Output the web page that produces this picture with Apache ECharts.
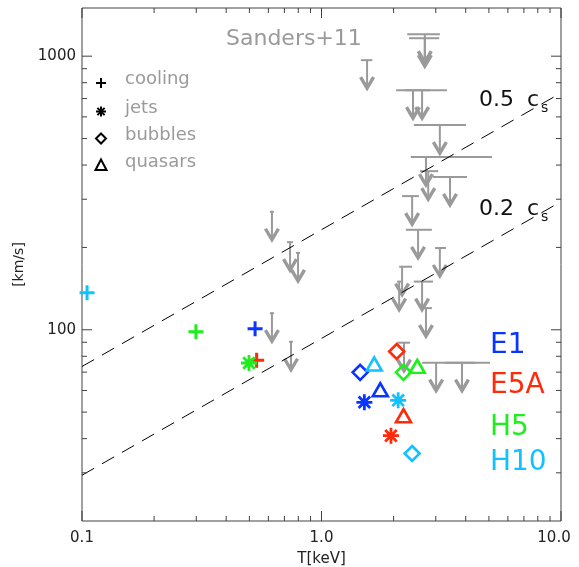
<!DOCTYPE html>
<html>
<head>
<meta charset="utf-8">
<script src="https://cdn.jsdelivr.net/npm/echarts@6/dist/echarts.min.js"></script>
<style>
  html, body { margin: 0; padding: 0; background: #ffffff; }
  #chart { width: 579px; height: 567px; }
</style>
</head>
<body>
<div id="chart"></div>
<script>
// ---- axis ranges and tick values ----
const X_MIN = 0.1, X_MAX = 10;
const Y_MIN = 20, Y_MAX = 1500;
const xMajorTicks = [0.1, 1, 10];
const xMinorTicks = [0.2, 0.3, 0.4, 0.5, 0.6, 0.7, 0.8, 0.9, 2, 3, 4, 5, 6, 7, 8, 9];
const yMajorTicks = [100, 1000];
const yMinorTicks = [30, 40, 50, 60, 70, 80, 90, 200, 300, 400, 500, 600, 700, 800, 900];
const xTickLabels = { '0.1': '0.1', '1': '1.0', '10': '10.0' };
const yTickLabels = { '100': '100', '1000': '1000' };

// ---- Sanders+11 upper limits: temperature, velocity limit, temperature range ----
const sandersT   = [1.55, 2.70, 2.70, 2.41, 2.63, 3.12, 2.73, 2.79, 3.44, 2.39, 2.53, 3.12, 2.17, 2.11, 2.63, 2.73, 2.21, 3.01, 3.86, 0.621, 0.739, 0.798, 0.621, 0.746];
const sandersV   = [967, 1203, 1163, 751, 751, 560, 428, 380, 362, 308, 232, 199, 170, 150, 150, 120, 89.7, 75.8, 75.8, 270, 209, 191, 115, 90.4];
const sandersTlo = [1.46, 2.28, 2.32, 2.05, 2.23, 2.43, 2.36, 2.58, 2.92, 2.17, 2.25, 2.98, 2.11, 2.07, 2.43, 2.65, 2.07, 2.63, 3.28, 0.609, 0.718, 0.783, 0.609, 0.732];
const sandersThi = [1.63, 3.12, 3.10, 2.84, 3.34, 4.01, 5.15, 3.07, 4.05, 2.55, 2.89, 3.31, 2.39, 2.15, 2.92, 2.89, 2.34, 4.38, 5.05, 0.633, 0.760, 0.813, 0.633, 0.760];

// ---- sound-speed reference lines (end points) ----
const cs05T = [0.1, 10];
const cs05V = [73.4, 734];
const cs02T = [0.1, 10];
const cs02V = [29.4, 294];

// ---- simulation runs: one value per run (E1, E5A, H5, H10) ----
const runNames  = ['E1', 'E5A', 'H5', 'H10'];
const coolingT  = [0.528, 0.536, 0.299, 0.105];
const coolingV  = [100.8, 77.3, 98.3, 136.5];
const jetsT     = [1.51, 1.95, 0.498, 2.09];
const jetsV     = [54.3, 41.0, 75.6, 55.2];
const bubblesT  = [1.45, 2.06, 2.20, 2.39];
const bubblesV  = [69.9, 83.3, 69.9, 35.3];
const quasarsT  = [1.76, 2.20, 2.51, 1.66];
const quasarsV  = [60.4, 48.5, 73.5, 75.0];

// ---- styling ----
const FONT = '"DejaVu Sans"';
const AXIS_COLOR = '#404040';
const GRAY = '#9a9a9a';
const runColors = ['#0a34ff', '#ff2a0a', '#1eee1e', '#12c2ff'];
const PLUS = 'path://M-1,0L1,0M0,-1L0,1';
const STAR = 'path://M-1,0L1,0M0,-1L0,1M-0.72,-0.72L0.72,0.72M-0.72,0.72L0.72,-0.72';

const chart = echarts.init(document.getElementById('chart'), null, { renderer: 'canvas' });

function logLabel(map) {
  return function (v) {
    const key = String(Math.round(v * 1000) / 1000);
    return map[key] !== undefined ? map[key] : '';
  };
}

// tick marks on all four sides, pointing inward
const tickData = []
  .concat(xMajorTicks.map(v => [v, Y_MIN, 1, 0]))
  .concat(xMinorTicks.map(v => [v, Y_MIN, 0, 0]))
  .concat(yMajorTicks.map(v => [X_MIN, v, 1, 1]))
  .concat(yMinorTicks.map(v => [X_MIN, v, 0, 1]));

function renderTick(params, api) {
  const major = api.value(2) === 1;
  const isY = api.value(3) === 1;
  const len = major ? 10 : 5;
  const st = { stroke: AXIS_COLOR, lineWidth: 1 };
  if (!isY) {
    const v = api.value(0);
    const b = api.coord([v, Y_MIN]);
    const t = api.coord([v, Y_MAX]);
    return { type: 'group', children: [
      { type: 'line', shape: { x1: b[0], y1: b[1], x2: b[0], y2: b[1] - len }, style: st },
      { type: 'line', shape: { x1: t[0], y1: t[1], x2: t[0], y2: t[1] + len }, style: st }
    ] };
  }
  const v = api.value(1);
  const l = api.coord([X_MIN, v]);
  const r = api.coord([X_MAX, v]);
  return { type: 'group', children: [
    { type: 'line', shape: { x1: l[0], y1: l[1], x2: l[0] + len, y2: l[1] }, style: st },
    { type: 'line', shape: { x1: r[0], y1: r[1], x2: r[0] - len, y2: r[1] }, style: st }
  ] };
}

// upper-limit glyph: temperature bar plus a downward arrow
const sandersData = sandersT.map((t, i) => [t, sandersV[i], sandersTlo[i], sandersThi[i]]);
function renderLimit(params, api) {
  const t = api.value(0), v = api.value(1);
  const c = api.coord([t, v]);
  const l = api.coord([api.value(2), v]);
  const r = api.coord([api.value(3), v]);
  const tip = c[1] + 28;
  return { type: 'group', children: [
    { type: 'line', shape: { x1: l[0], y1: c[1], x2: r[0], y2: c[1] }, style: { stroke: GRAY, lineWidth: 2 } },
    { type: 'line', shape: { x1: c[0], y1: c[1], x2: c[0], y2: tip - 1 }, style: { stroke: GRAY, lineWidth: 2 } },
    { type: 'polyline', shape: { points: [[c[0] - 6.5, tip - 11], [c[0], tip], [c[0] + 6.5, tip - 11]] },
      style: { stroke: GRAY, lineWidth: 3.4, fill: null, lineJoin: 'miter' } }
  ] };
}

const series = [
  { type: 'custom', name: 'ticks', data: tickData, renderItem: renderTick, silent: true, z: 5 },
  { type: 'custom', name: 'Sanders+11', data: sandersData, renderItem: renderLimit, silent: true, z: 2,
    encode: { x: [0, 2, 3], y: 1 } },
  { type: 'line', name: '0.5 cs', data: cs05T.map((t, i) => [t, cs05V[i]]), symbol: 'none', silent: true, z: 3,
    lineStyle: { color: '#000', width: 1, type: [14, 9] } },
  { type: 'line', name: '0.2 cs', data: cs02T.map((t, i) => [t, cs02V[i]]), symbol: 'none', silent: true, z: 3,
    lineStyle: { color: '#000', width: 1, type: [14, 9] } }
];

// one scatter series per run and mechanism
const mechanisms = [
  { T: coolingT, V: coolingV, symbol: PLUS, size: 15, width: 3 },
  { T: jetsT,    V: jetsV,    symbol: STAR, size: 16, width: 2.8 },
  { T: bubblesT, V: bubblesV, symbol: 'diamond', size: [15, 15], width: 2.6 },
  { T: quasarsT, V: quasarsV, symbol: 'triangle', size: [15, 13], width: 2.6 }
];
runNames.forEach((run, r) => {
  mechanisms.forEach(m => {
    series.push({
      type: 'scatter', name: run, data: [[m.T[r], m.V[r]]],
      symbol: m.symbol, symbolSize: m.size, silent: true, z: 4,
      itemStyle: { color: 'rgba(0,0,0,0)', borderColor: runColors[r], borderWidth: m.width, opacity: 1 }
    });
  });
});

// legend glyphs for the four mechanisms
const legendItems = [
  { label: 'cooling', y: 83, shape: 'plus' },
  { label: 'jets', y: 111.5, shape: 'star' },
  { label: 'bubbles', y: 138.5, shape: 'diamond' },
  { label: 'quasars', y: 165.5, shape: 'triangle' }
];
function legendGlyph(shape, cx, cy) {
  const st = { stroke: '#000', lineWidth: 2, fill: null };
  const h = 5;
  if (shape === 'plus') return [
    { type: 'line', shape: { x1: cx - h, y1: cy, x2: cx + h, y2: cy }, style: st },
    { type: 'line', shape: { x1: cx, y1: cy - h, x2: cx, y2: cy + h }, style: st }
  ];
  if (shape === 'star') return [
    { type: 'line', shape: { x1: cx - h, y1: cy, x2: cx + h, y2: cy }, style: st },
    { type: 'line', shape: { x1: cx, y1: cy - h, x2: cx, y2: cy + h }, style: st },
    { type: 'line', shape: { x1: cx - 3.6, y1: cy - 3.6, x2: cx + 3.6, y2: cy + 3.6 }, style: st },
    { type: 'line', shape: { x1: cx - 3.6, y1: cy + 3.6, x2: cx + 3.6, y2: cy - 3.6 }, style: st }
  ];
  if (shape === 'diamond') return [
    { type: 'polygon', shape: { points: [[cx, cy - h], [cx + h, cy], [cx, cy + h], [cx - h, cy]] }, style: st }
  ];
  return [
    { type: 'polygon', shape: { points: [[cx, cy - 6], [cx + 5.5, cy + 4.5], [cx - 5.5, cy + 4.5]] }, style: st }
  ];
}
const graphics = [];
legendItems.forEach(it => {
  legendGlyph(it.shape, 101, it.y).forEach(g => graphics.push(g));
  graphics.push({ type: 'text', x: 125, y: it.y - 3.5,
    style: { text: it.label, fontFamily: FONT, fontSize: 18, fill: GRAY, verticalAlign: 'middle' } });
});
graphics.push({ type: 'text', x: 226, y: 39,
  style: { text: 'Sanders+11', fontFamily: FONT, fontSize: 22, fill: GRAY, verticalAlign: 'middle' } });

// sound-speed line labels
[{ num: '0.5', y: 100 }, { num: '0.2', y: 209 }].forEach(l => {
  graphics.push({ type: 'text', x: 479, y: l.y,
    style: { text: l.num, fontFamily: FONT, fontSize: 22, fill: '#111', verticalAlign: 'middle' } });
  graphics.push({ type: 'text', x: 527, y: l.y,
    style: { text: 'c', fontFamily: FONT, fontSize: 22, fill: '#111', verticalAlign: 'middle' } });
  graphics.push({ type: 'text', x: 541, y: l.y + 8,
    style: { text: 's', fontFamily: FONT, fontSize: 14, fill: '#111', verticalAlign: 'middle' } });
});

// run name labels
[346, 386, 428, 463].forEach((y, i) => {
  graphics.push({ type: 'text', x: 490, y: y,
    style: { text: runNames[i], fontFamily: FONT, fontSize: 28, fill: runColors[i], verticalAlign: 'middle' } });
});

const option = {
  animation: false,
  backgroundColor: '#ffffff',
  grid: { left: 82, top: 8, right: 18, bottom: 46, show: true, borderColor: AXIS_COLOR, borderWidth: 1,
          backgroundColor: 'transparent', outerBoundsMode: 'none', containLabel: false },
  xAxis: {
    type: 'log', logBase: 10, min: X_MIN, max: X_MAX,
    name: 'T[keV]', nameLocation: 'middle', nameGap: 31,
    nameTextStyle: { fontFamily: FONT, fontSize: 15, color: '#222' },
    axisLine: { show: false }, axisTick: { show: false }, splitLine: { show: false },
    axisLabel: {
      fontFamily: FONT, fontSize: 15, color: '#222', margin: 10,
      formatter: function (v) {
        const s = logLabel(xTickLabels)(v);
        return s === '10.0' ? '{r|10.0}' : s;
      },
      rich: { r: { fontFamily: FONT, fontSize: 15, color: '#222', padding: [0, 14, 0, 0] } }
    }
  },
  yAxis: {
    type: 'log', logBase: 10, min: Y_MIN, max: Y_MAX,
    name: '[km/s]', nameLocation: 'middle', nameGap: 56,
    nameTextStyle: { fontFamily: FONT, fontSize: 14, color: '#222' },
    axisLine: { show: false }, axisTick: { show: false }, splitLine: { show: false },
    axisLabel: { fontFamily: FONT, fontSize: 15, color: '#222', margin: 6, formatter: logLabel(yTickLabels) }
  },
  graphic: graphics,
  series: series
};
chart.setOption(option);
</script>
</body>
</html>
